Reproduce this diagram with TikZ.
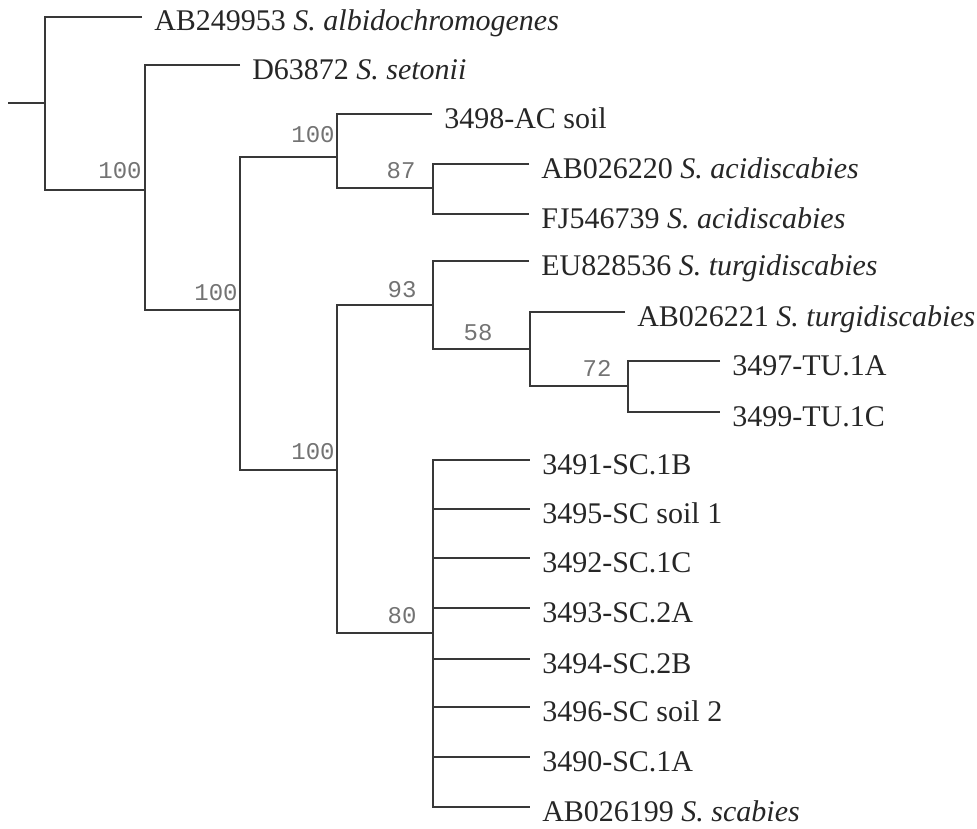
\documentclass[tikz,border=0pt]{standalone}
\usepackage{fontspec}
\setmainfont{Liberation Serif}
\newfontfamily\bootfont{Liberation Mono}
\usepackage{tikz}
\usetikzlibrary{positioning}

\begin{document}
\begin{tikzpicture}[x=0.75pt,y=-0.75pt,
  branch/.style={line width=1.7pt,draw=black!78},
  leaf/.style={anchor=west,inner xsep=9pt,inner ysep=0pt,text height=21pt,text depth=0pt,
    font=\fontsize{22.5}{27}\selectfont,text=black!85},
  boot/.style={anchor=base,inner sep=0pt,font=\bootfont\fontsize{18}{20}\selectfont,text=black!55}]
  \useasboundingbox (0,0) rectangle (977,828);
  % inner nodes of the tree
  \coordinate (stub) at (8,103);
  \coordinate (r) at (45,103);
  \coordinate (n1) at (145,190);
  \coordinate (n2) at (240,310);
  \coordinate (n3) at (337,157);
  \coordinate (n4) at (433,188);
  \coordinate (n6) at (337,470);
  \coordinate (n7) at (433,305);
  \coordinate (n8) at (530,349);
  \coordinate (n9) at (628,386);
  \coordinate (n10) at (433,633);
  % leaves
  \node[leaf] (alb) at (142,17) {AB249953 \textit{S. albidochromogenes}};
  \node[leaf] (set) at (240,65) {D63872 \textit{S. setonii}};
  \node[leaf] (ac) at (432,114) {3498-AC soil};
  \node[leaf] (aci1) at (529,164) {AB026220 \textit{S. acidiscabies}};
  \node[leaf] (aci2) at (529,214) {FJ546739 \textit{S. acidiscabies}};
  \node[leaf] (tur1) at (529,261) {EU828536 \textit{S. turgidiscabies}};
  \node[leaf] (tur2) at (625,312) {AB026221 \textit{S. turgidiscabies}};
  \node[leaf] (tu1a) at (720,361) {3497-TU.1A};
  \node[leaf] (tu1c) at (720,412) {3499-TU.1C};
  \node[leaf] (sc1b) at (530,460) {3491-SC.1B};
  \node[leaf] (scs1) at (530,509) {3495-SC soil 1};
  \node[leaf] (sc1c) at (530,558) {3492-SC.1C};
  \node[leaf] (sc2a) at (530,608) {3493-SC.2A};
  \node[leaf] (sc2b) at (530,659) {3494-SC.2B};
  \node[leaf] (scs2) at (530,707) {3496-SC soil 2};
  \node[leaf] (sc1a) at (530,757) {3490-SC.1A};
  \node[leaf] (scab) at (530,807) {AB026199 \textit{S. scabies}};
  % bootstrap values
  \node[boot] (b1) at (120,178) {100};
  \node[boot] (b2) at (216,300) {100};
  \node[boot] (b3) at (313,142) {100};
  \node[boot] (b4) at (401,178) {87};
  \node[boot] (b6) at (313,459) {100};
  \node[boot] (b7) at (402,297) {93};
  \node[boot] (b8) at (478,340) {58};
  \node[boot] (b9) at (597,376) {72};
  \node[boot] (b10) at (402,623) {80};
  % branches
  \draw[branch] (stub) -- (r);
  \draw[branch] (alb.west) -| (r) |- (n1);
  \draw[branch] (set.west) -| (n1) |- (n2);
  \draw[branch] (n3) -| (n2) |- (n6);
  \draw[branch] (ac.west) -| (n3) |- (n4);
  \draw[branch] (aci1.west) -| (n4) |- (aci2.west);
  \draw[branch] (n7) -| (n6) |- (n10);
  \draw[branch] (tur1.west) -| (n7) |- (n8);
  \draw[branch] (tur2.west) -| (n8) |- (n9);
  \draw[branch] (tu1a.west) -| (n9) |- (tu1c.west);
  \foreach \lf in {sc1b,scs1,sc1c,sc2a,sc2b,scs2,sc1a,scab}
    \draw[branch] (n10) |- (\lf.west);
\end{tikzpicture}
\end{document}
